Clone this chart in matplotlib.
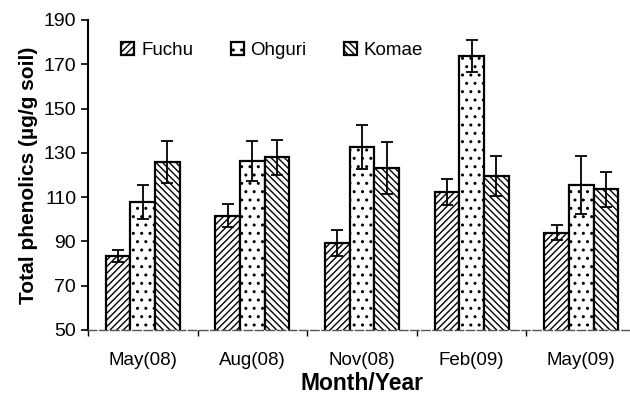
import matplotlib
matplotlib.use("Agg")
import matplotlib.pyplot as plt
import numpy as np

plt.rcParams['font.family'] = ['Liberation Sans', 'DejaVu Sans']
plt.rcParams['hatch.linewidth'] = 1.0

months = ['May(08)', 'Aug(08)', 'Nov(08)', 'Feb(09)', 'May(09)']
sites = ['Fuchu', 'Ohguri', 'Komae']

fuchu = [83.4, 101.7, 89.4, 112.3, 94.0]
ohguri = [108.0, 126.3, 132.5, 173.8, 115.4]
komae = [125.8, 128.1, 123.3, 119.6, 113.5]

fuchu_err = [2.7, 5.1, 5.8, 6.0, 3.3]
ohguri_err = [7.7, 9.0, 10.0, 7.2, 13.2]
komae_err = [9.5, 7.9, 11.7, 9.0, 7.9]

hatches = ['/////', '..', '\\\\\\\\\\']

fig = plt.figure(figsize=(6.3, 3.96), dpi=100)
ax = fig.add_axes([88 / 630, 1 - 330 / 396, (636 - 88) / 630, 310 / 396])

x = np.arange(len(months))
w = 0.225
series = [fuchu, ohguri, komae]
errs = [fuchu_err, ohguri_err, komae_err]
for i, (vals, err) in enumerate(zip(series, errs)):
    ax.bar(x + (i - 1) * w, vals, width=w, bottom=0, color='white',
           edgecolor='black', linewidth=1.6, hatch=hatches[i], label=sites[i],
           yerr=err, capsize=4,
           error_kw=dict(ecolor='black', elinewidth=1.3, capthick=1.3))

ax.set_ylim(50, 190)
ax.set_yticks(np.arange(50, 191, 20))
ax.set_xlim(-0.5, len(months) - 0.5)
ax.set_xticks(x)
ax.set_xticklabels(months, fontsize=13.5)
ax.set_xticks(np.arange(-0.5, len(months), 1), minor=True)
ax.tick_params(axis='x', which='major', length=0, pad=16)
ax.tick_params(axis='x', which='minor', length=4, direction='out', width=1)
ax.tick_params(axis='y', labelsize=14, length=5, direction='out', width=1.2)

for s in ['top', 'right']:
    ax.spines[s].set_visible(False)
ax.spines['left'].set_linewidth(1.5)
ax.spines['bottom'].set_linewidth(1.0)
ax.spines['bottom'].set_color('#555555')
ax.spines['bottom'].set_linestyle((0, (6, 2)))

ax.set_ylabel('Total phenolics (\u00b5g/g soil)', fontsize=15, fontweight='bold', labelpad=4)
ax.set_xlabel('Month/Year', fontsize=16.5, fontweight='bold', labelpad=2)

ax.legend(loc='upper left', bbox_to_anchor=(0.03, 0.985), ncol=3, frameon=False,
          fontsize=13.5, handlelength=0.7, handleheight=0.7, handletextpad=0.35,
          columnspacing=2.0)

fig.savefig('out.png', dpi=100)
